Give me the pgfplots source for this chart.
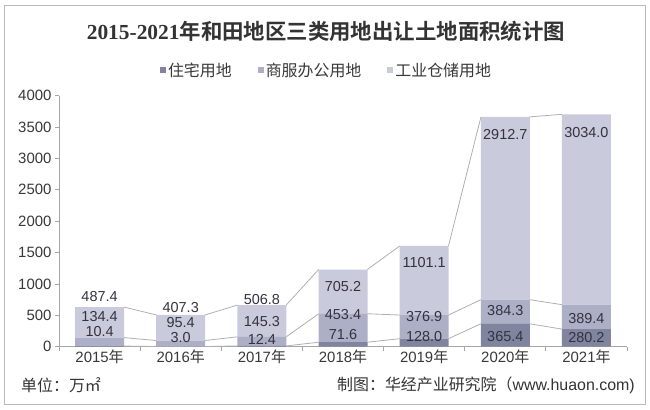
\documentclass[border=0pt]{standalone}
\usepackage{pgfplots}
\pgfplotsset{compat=1.18}
\usepackage{fontspec}
\setmainfont{Liberation Sans}
\newfontfamily\cjk{Noto Sans CJK SC}
\newfontfamily\cjkb{Noto Sans CJK SC Bold}
\newfontfamily\tserif{Liberation Serif}
\newcommand{\nian}{{\cjk 年}}
\definecolor{cA}{RGB}{128,132,158}
\definecolor{cB}{RGB}{172,175,198}
\definecolor{cC}{RGB}{201,203,220}
\definecolor{txt}{RGB}{51,51,64}
\definecolor{lin}{RGB}{175,175,178}

\pgfplotstableread{
x y l
0 800 487.4
0 478 134.4
0 245 10.4
1 628 407.3
1 386 95.4
1 154 3.0
2 744 506.8
2 398 145.3
2 118 12.4
3 956 705.2
3 516 453.4
3 191 71.6
4 1339 1101.1
4 478 376.9
4 170 128.0
5 3386 2912.7
5 574 384.3
5 160 365.4
6 3411 3034.0
6 452 389.4
6 144 280.2
}\labels

\begin{document}
\begin{tikzpicture}[x=1bp,y=1bp]
\path[use as bounding box] (-59,-62.3) rectangle (591,346.7);
\draw[gray!55, line width=0.9bp] (-54.5,-57.5) rectangle (586,341.5);

\begin{axis}[
  at={(0,0)}, anchor=south west, scale only axis,
  width=568bp, height=251bp,
  xmin=-0.5, xmax=6.5, ymin=0, ymax=4000,
  ybar stacked, bar width=49bp,
  separate axis lines,
  axis x line*=bottom, axis y line*=left,
  axis line style={-, draw=gray!70, line width=0.8bp},
  xtick={-0.5,0.5,...,6.5}, xticklabels={},
  extra x ticks={0,1,2,3,4,5,6},
  extra x tick labels={2015\nian,2016\nian,2017\nian,2018\nian,2019\nian,2020\nian,2021\nian},
  extra x tick style={major tick length=0pt},
  ytick={0,500,...,4000},
  tick align=outside, major tick length=4bp,
  tick style={draw=gray!70, line width=0.8bp},
  ticklabel style={font=\fontsize{15}{15}\selectfont, text=black!78},
  /pgf/number format/assume math mode=true,
  /pgf/number format/1000 sep={},
  legend style={at={(0.471,1.102)}, anchor=center, draw=none, fill=none,
    font=\cjk\fontsize{16}{16}\selectfont, text=black!78,
    legend columns=3, inner sep=0pt,
    /tikz/every even column/.append style={column sep=24bp}},
  legend cell align=left,
]
\addplot[fill=cA, draw=none, legend image code/.code={\fill[cA] (0bp,-3bp) rectangle (6bp,3bp);}] coordinates {(0,10.4) (1,3.0) (2,12.4) (3,71.6) (4,128.0) (5,365.4) (6,280.2)};
\addplot[fill=cB, draw=none, legend image code/.code={\fill[cB] (0bp,-3bp) rectangle (6bp,3bp);}] coordinates {(0,134.4) (1,95.4) (2,145.3) (3,453.4) (4,376.9) (5,384.3) (6,389.4)};
\addplot[fill=cC, draw=none, legend image code/.code={\fill[cC] (0bp,-3bp) rectangle (6bp,3bp);}] coordinates {(0,487.4) (1,407.3) (2,506.8) (3,705.2) (4,1101.1) (5,2912.7) (6,3034.0)};
\legend{住宅用地,商服办公用地,工业仓储用地}
\end{axis}

\begin{axis}[
  at={(0,0)}, anchor=south west, scale only axis,
  width=568bp, height=251bp,
  xmin=-0.5, xmax=6.5, ymin=0, ymax=4000,
  axis lines=none, clip=false, unbounded coords=jump,
]
\addplot[lin, line width=0.8bp, mark=none] coordinates {(0.3,10.4)(0.7,3.0) (nan,nan) (1.3,3.0)(1.7,12.4) (nan,nan) (2.3,12.4)(2.7,71.6) (nan,nan) (3.3,71.6)(3.7,128.0) (nan,nan) (4.3,128.0)(4.7,365.4) (nan,nan) (5.3,365.4)(5.7,280.2)};
\addplot[lin, line width=0.8bp, mark=none] coordinates {(0.3,144.8)(0.7,98.4) (nan,nan) (1.3,98.4)(1.7,157.7) (nan,nan) (2.3,157.7)(2.7,525.0) (nan,nan) (3.3,525.0)(3.7,504.9) (nan,nan) (4.3,504.9)(4.7,749.7) (nan,nan) (5.3,749.7)(5.7,669.6)};
\addplot[lin, line width=0.8bp, mark=none] coordinates {(0.3,632.2)(0.7,505.7) (nan,nan) (1.3,505.7)(1.7,664.5) (nan,nan) (2.3,664.5)(2.7,1230.2) (nan,nan) (3.3,1230.2)(3.7,1606.0) (nan,nan) (4.3,1606.0)(4.7,3662.4) (nan,nan) (5.3,3662.4)(5.7,3703.6)};
\addplot[only marks, mark=none, nodes near coords, point meta=explicit symbolic,
  nodes near coords style={anchor=center, font=\fontsize{14.5}{14.5}\selectfont, text=txt, inner sep=0pt}]
  table[x=x, y=y, meta=l] {\labels};
\end{axis}

\node[font=\fontsize{21.5}{21.5}\selectfont, text=black!80, anchor=center] at (267,315.7)
  {{\tserif\bfseries 2015-2021}{\cjkb 年和田地区三类用地出让土地面积统计图}};
\node[font=\cjk\fontsize{16}{16}\selectfont, text=black!80, anchor=west, inner sep=0pt] at (-38,-38.3) {单位：万㎡};
\node[font=\fontsize{16}{16}\selectfont, text=black!80, anchor=east, inner sep=0pt] at (576,-38.3) {{\cjk 制图：华经产业研究院（}www.huaon.com)};
\end{tikzpicture}
\end{document}
